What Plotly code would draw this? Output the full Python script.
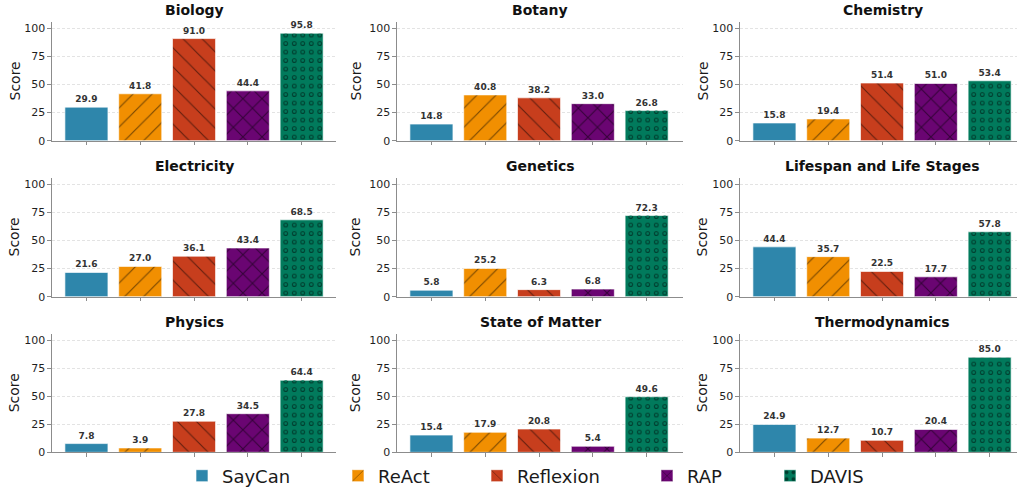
import plotly.graph_objects as go

# ---------------- data ----------------
subjects = ["Biology", "Botany", "Chemistry", "Electricity", "Genetics",
            "Lifespan and Life Stages", "Physics", "State of Matter", "Thermodynamics"]
methods = ["SayCan", "ReAct", "Reflexion", "RAP", "DAVIS"]
saycan = [29.9, 14.8, 15.8, 21.6, 5.8, 44.4, 7.8, 15.4, 24.9]
react = [41.8, 40.8, 19.4, 27.0, 25.2, 35.7, 3.9, 17.9, 12.7]
reflexion = [91.0, 38.2, 51.4, 36.1, 6.3, 22.5, 27.8, 20.8, 10.7]
rap = [44.4, 33.0, 51.0, 43.4, 6.8, 17.7, 34.5, 5.4, 20.4]
davis = [95.8, 26.8, 53.4, 68.5, 72.3, 57.8, 64.4, 49.6, 85.0]
y_ticks = [0, 25, 50, 75, 100]
y_label = "Score"

series = [saycan, react, reflexion, rap, davis]

# ---------------- style ----------------
colors = ["#2E86AB", "#F18F01", "#C73E1D", "#6A0572", "#017A5C"]
shapes = ["", "/", "\\", "x", "."]
FONT = "DejaVu Sans"
W, H = 1017, 490

col_px = [(52, 336), (397, 683), (740, 1017)]
col_center = [194, 540, 882.5]
score_x = [14, 355, 702]
row_px = [(22.3, 140.7), (178.3, 296.7), (334.3, 452.3)]
title_y = [10, 166, 322]
px_per_unit = 53.8
y_max = 105.5

fig = go.Figure()

for i, subj in enumerate(subjects):
    r, c = divmod(i, 3)
    ax = "" if i == 0 else str(i + 1)
    xa, ya = "x" + ax, "y" + ax
    for m, name in enumerate(methods):
        val = series[m][i]
        pat = dict(shape=shapes[m])
        if m in (1, 2):
            pat.update(fillmode="overlay", fgcolor="black", size=13.5, solidity=0.085)
        elif m == 3:
            pat.update(fillmode="overlay", fgcolor="black", size=13.5, solidity=0.15)
        elif m == 4:
            pat.update(fillmode="overlay", fgcolor="black", size=8.5, solidity=0.25)
        fig.add_trace(go.Bar(
            x=[m], y=[val], name=name, width=0.8,
            marker=dict(color=colors[m], line=dict(color="rgba(255,255,255,0.8)", width=0.8),
                        pattern=pat),
            text=[f"{val:.1f}"], textposition="outside", cliponaxis=False,
            textfont=dict(family=FONT, size=9, color="#333333", weight="bold"),
            xaxis=xa, yaxis=ya,
            legend="legend" if m == 0 else f"legend{m + 1}",
            legendgroup=name, showlegend=(i == 0),
            hoverinfo="skip",
        ))
        if m == 4:
            # inner fill of the rings
            fig.add_trace(go.Bar(
                x=[m], y=[val], width=0.8,
                marker=dict(color=colors[m], line=dict(width=0),
                            pattern=dict(shape=".", fillmode="replace", size=8.5, solidity=0.085)),
                xaxis=xa, yaxis=ya, showlegend=False, legendgroup=name, hoverinfo="skip",
            ))

    x0, x1 = col_px[c]
    y0, y1 = row_px[r]
    width_px = x1 - x0
    fig.layout["xaxis" + ax] = dict(
        domain=[x0 / W, x1 / W], anchor=ya,
        range=[-0.64, -0.64 + width_px / px_per_unit],
        tickvals=list(range(5)), ticktext=[""] * 5, ticks="outside", ticklen=3.5,
        tickcolor="#8c8c8c", showline=True, linecolor="#8c8c8c", linewidth=1.2,
        showgrid=False, zeroline=False, fixedrange=True,
    )
    fig.layout["yaxis" + ax] = dict(
        domain=[1 - y1 / H, 1 - y0 / H], anchor=xa,
        range=[0, y_max], tickvals=y_ticks, ticks="outside", ticklen=3.5,
        tickcolor="#8c8c8c", showline=True, linecolor="#8c8c8c", linewidth=1.2,
        tickfont=dict(family=FONT, size=11, color="#1f1f1f"),
        showgrid=True, gridcolor="#e3e3e3", gridwidth=0.8, griddash="3px,2px",
        zeroline=False, fixedrange=True,
    )
    fig.add_annotation(x=col_center[c] / W, y=1 - title_y[r] / H, xref="paper", yref="paper",
                       text=subj, showarrow=False, xanchor="center", yanchor="middle",
                       font=dict(family=FONT, size=14, color="#111111", weight="bold"))
    fig.add_annotation(x=score_x[c] / W, y=1 - (y0 + y1) / 2 / H, xref="paper", yref="paper",
                       text=y_label, showarrow=False, textangle=-90,
                       xanchor="center", yanchor="middle",
                       font=dict(family=FONT, size=14, color="#1a1a1a"))

legend_text_x = [222, 378, 517, 687, 810]
leg_common = dict(orientation="h", yanchor="middle", y=1 - 476 / H, xanchor="left",
                  bgcolor="rgba(0,0,0,0)", font=dict(family=FONT, size=18, color="#1a1a1a"))
for m in range(5):
    key = "legend" if m == 0 else f"legend{m + 1}"
    fig.layout[key] = dict(x=(legend_text_x[m] - 40) / W, **leg_common)

fig.update_layout(
    width=W, height=H, barmode="overlay",
    margin=dict(l=0, r=0, t=0, b=0, autoexpand=False),
    paper_bgcolor="white", plot_bgcolor="white",
    font=dict(family=FONT),
)

fig.write_html(
    "out.html",
    config={"displayModeBar": False},
    post_script="document.body.style.margin='0';document.body.style.overflow='hidden';",
)
